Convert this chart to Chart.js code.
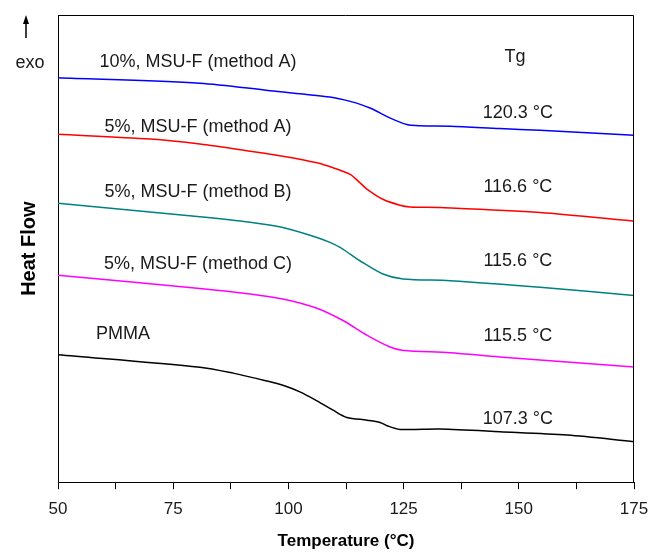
<!DOCTYPE html>
<html>
<head>
<meta charset="utf-8">
<script src="https://cdn.jsdelivr.net/npm/chart.js@4.4.0/dist/chart.umd.min.js"></script>
<style>
  html, body { margin: 0; padding: 0; background: #fff; }
  #wrap { width: 654px; height: 552px; }
</style>
</head>
<body>
<div id="wrap"><canvas id="dscChart"></canvas></div>
<script>
// DSC traces (temperature in °C, heat flow in arbitrary units, curves offset for clarity)
const tempA10 = [50, 80.8, 96.0, 109.0, 113.4, 117.7, 122.0, 125.7, 128.6, 135.1, 145.9, 154.6, 175];
const flowA10 = [405, 399.5, 392, 385.7, 381.3, 374.7, 364.7, 358, 356.7, 356.3, 354, 352.3, 347.3];

const tempA5 = [50, 70.0, 80.8, 91.7, 98.8, 106.2, 109.7, 113.4, 115.5, 117.1, 120.5, 124.2, 126.4, 132.9, 154.6, 175];
const flowA5 = [348.3, 343.5, 338.5, 331.3, 326.3, 319.7, 314.7, 308, 299.7, 293, 283, 277, 275.3, 274.7, 269.7, 261];

const tempB5 = [50, 80.8, 91.7, 98.8, 106.2, 109.0, 111.2, 113.4, 115.5, 120.5, 124.9, 135.1, 154.6, 175];
const flowB5 = [279, 265.5, 260, 254.7, 244.7, 239.7, 234.7, 228, 221.3, 208, 203, 201.3, 194.7, 186.3];

const tempC5 = [50, 80.8, 91.7, 98.8, 106.2, 111.85, 117.1, 122.05, 124.9, 135.1, 145.9, 175];
const flowC5 = [206.7, 193.5, 188, 183, 173.7, 161.3, 146.3, 134.7, 131.3, 129, 124.7, 114.7];

const tempPMMA = [50, 80.8, 88.0, 95.4, 98.8, 102.5, 106.2, 109.7, 112.7, 117.1, 119.9, 121.4, 124.2, 132.9, 145.9, 160.5, 175];
const flowPMMA = [127, 114.5, 108.5, 100.5, 96.3, 89.7, 80.7, 71.3, 64, 61.3, 59, 55.7, 52, 52.3, 49.7, 46.3, 39.7];

const seriesNames = ['10%, MSU-F (method A)', '5%, MSU-F (method A)', '5%, MSU-F (method B)', '5%, MSU-F (method C)', 'PMMA'];
const tgValues = [120.3, 116.6, 115.6, 115.5, 107.3];
const xTicks = [50, 75, 100, 125, 150, 175];

const colors = ['#0000ff', '#ff0000', '#008080', '#ff00ff', '#000000'];
const temps = [tempA10, tempA5, tempB5, tempC5, tempPMMA];
const flows = [flowA10, flowA5, flowB5, flowC5, flowPMMA];

// label anchors in data units (x = °C, y = heat flow)
const nameX = [80.4, 80.4, 80.4, 80.4, 64.1];
const nameY = [421, 356, 290, 218, 148];
const tgX = 149.8;
const tgY = [370, 295, 221, 146, 62];

const textFont = "18px 'Liberation Sans', Arial, sans-serif";

const labelPlugin = {
    id: 'dscLabels',
    afterDraw(chart) {
        const { ctx, chartArea: a } = chart;
        const x = chart.scales.x, y = chart.scales.y;
        ctx.save();

        // frame top + right
        ctx.strokeStyle = '#000';
        ctx.lineWidth = 1;
        ctx.beginPath();
        ctx.moveTo(a.left, a.top + 0.5);
        ctx.lineTo(a.right - 0.5, a.top + 0.5);
        ctx.lineTo(a.right - 0.5, a.bottom);
        ctx.stroke();

        ctx.fillStyle = '#1a1a1a';
        ctx.font = textFont;
        ctx.textAlign = 'center';
        ctx.textBaseline = 'middle';

        seriesNames.forEach((n, i) => {
            ctx.fillText(n, x.getPixelForValue(nameX[i]), y.getPixelForValue(nameY[i]));
        });
        ctx.fillText('Tg', x.getPixelForValue(149.2), y.getPixelForValue(426));
        tgValues.forEach((t, i) => {
            ctx.fillText(t.toFixed(1) + ' °C', x.getPixelForValue(tgX), y.getPixelForValue(tgY[i]));
        });

        // exo arrow in left margin
        ctx.fillText('exo', 30, 63);
        ctx.strokeStyle = '#000';
        ctx.lineWidth = 1.5;
        ctx.beginPath();
        ctx.moveTo(26, 38);
        ctx.lineTo(26, 22);
        ctx.stroke();
        ctx.beginPath();
        ctx.moveTo(26, 15);
        ctx.lineTo(23, 24);
        ctx.lineTo(29, 24);
        ctx.closePath();
        ctx.fillStyle = '#000';
        ctx.fill();
        ctx.restore();
    }
};

const datasets = seriesNames.map((name, i) => ({
    label: name,
    data: temps[i].map((t, k) => ({ x: t, y: flows[i][k] })),
    borderColor: colors[i],
    borderWidth: 1.5,
    pointRadius: 0,
    tension: 0.3,
    fill: false
}));

new Chart(document.getElementById('dscChart').getContext('2d'), {
    type: 'line',
    data: { datasets },
    options: {
        responsive: true,
        maintainAspectRatio: false,
        animation: false,
        layout: { padding: { left: 0, right: 20, top: 15, bottom: 0 } },
        plugins: { legend: { display: false }, tooltip: { enabled: false } },
        scales: {
            x: {
                type: 'linear',
                min: 50,
                max: 175,
                afterBuildTicks: (s) => {
                    const t = [];
                    for (let v = 50; v <= 175; v += 12.5) t.push({ value: v });
                    s.ticks = t;
                },
                afterFit: (s) => { s.paddingLeft = 0; s.paddingRight = 0; },
                ticks: {
                    autoSkip: false,
                    maxRotation: 0,
                    padding: 10,
                    color: '#1a1a1a',
                    font: { family: "'Liberation Sans', Arial, sans-serif", size: 17 },
                    callback: (v) => xTicks.includes(v) ? String(v) : ''
                },
                grid: { drawOnChartArea: false, drawTicks: true, tickLength: 7, color: '#000', lineWidth: 1 },
                border: { display: true, color: '#000', width: 1 },
                title: {
                    display: true,
                    text: 'Temperature (°C)',
                    color: '#000',
                    font: { family: "'Liberation Sans', Arial, sans-serif", size: 17, weight: 'bold' },
                    padding: { top: 2, bottom: 0 }
                }
            },
            y: {
                min: -1,
                max: 468,
                ticks: { display: false },
                grid: { display: false, drawTicks: false },
                border: { display: true, color: '#000', width: 1 },
                title: {
                    display: true,
                    text: 'Heat Flow',
                    color: '#000',
                    font: { family: "'Liberation Sans', Arial, sans-serif", size: 20, weight: 'bold' },
                    padding: { top: 17, bottom: 17 }
                }
            }
        }
    },
    plugins: [labelPlugin]
});
</script>
</body>
</html>
